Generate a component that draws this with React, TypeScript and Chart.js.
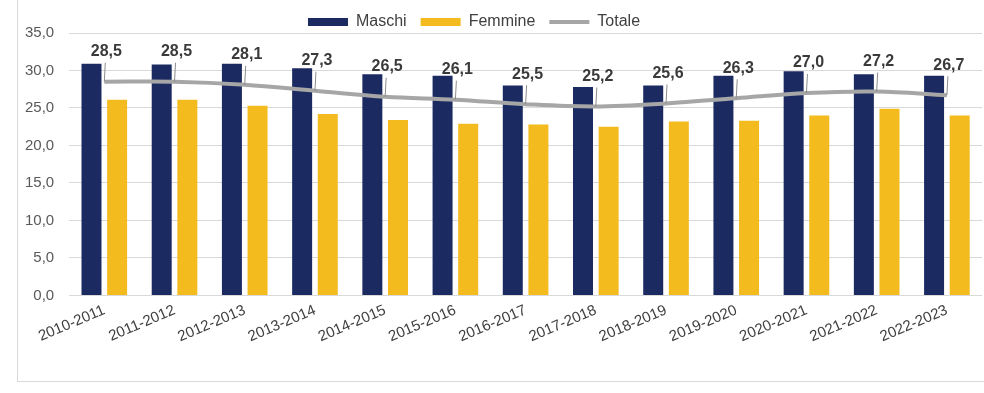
import React, { useEffect, useRef } from "react";
import { Chart, registerables } from "chart.js";

Chart.register(...registerables);

const categories = [
  "2010-2011", "2011-2012", "2012-2013", "2013-2014", "2014-2015", "2015-2016", "2016-2017",
  "2017-2018", "2018-2019", "2019-2020", "2020-2021", "2021-2022", "2022-2023",
];
const maschi = [30.9, 30.8, 30.9, 30.3, 29.5, 29.3, 28.0, 27.8, 28.0, 29.3, 29.9, 29.5, 29.3];
const femmine = [26.1, 26.1, 25.3, 24.2, 23.4, 22.9, 22.8, 22.5, 23.2, 23.3, 24.0, 24.9, 24.0];
const totale = [28.5, 28.5, 28.1, 27.3, 26.5, 26.1, 25.5, 25.2, 25.6, 26.3, 27.0, 27.2, 26.7];
const seriesNames = ["Maschi", "Femmine", "Totale"];
const yMin = 0;
const yMax = 35;
const yStep = 5;

const FONT = "'Liberation Sans', Arial, sans-serif";
const NAVY = "#1c2a62";
const YELLOW = "#f3bb1e";
const GRAY = "#a6a6a6";

const fmt = (v: number) => v.toFixed(1).replace(".", ",");

const totLabels = {
  id: "totLabels",
  afterDatasetsDraw(chart: any) {
    const meta = chart.getDatasetMeta(2);
    const ctx = chart.ctx;
    ctx.save();
    meta.data.forEach((pt: any, i: number) => {
      const x = pt.x;
      const y = pt.y;
      ctx.strokeStyle = "#8c8c8c";
      ctx.lineWidth = 1;
      ctx.beginPath();
      ctx.moveTo(x, y);
      ctx.lineTo(x + 1, y - 19);
      ctx.stroke();
      ctx.font = `bold 16px ${FONT}`;
      ctx.fillStyle = "#3a3a3a";
      ctx.textAlign = "center";
      ctx.textBaseline = "middle";
      ctx.fillText(fmt(totale[i]), x + 2, y - 30);
    });
    ctx.restore();
  },
};

const shiftLegend = {
  id: "shiftLegend",
  afterLayout(chart: any) {
    const lg = chart.legend;
    if (lg) {
      lg.left -= 22;
      lg.right -= 22;
      lg.top += 7;
      lg.bottom += 7;
    }
  },
};

export default function App() {
  const ref = useRef<HTMLCanvasElement | null>(null);
  useEffect(() => {
    if (!ref.current) return;
    const chart = new Chart(ref.current, {
      type: "bar",
      data: {
        labels: categories,
        datasets: [
          {
            type: "bar",
            label: seriesNames[0],
            data: maschi,
            backgroundColor: NAVY,
            order: 2,
            categoryPercentage: 0.73,
            barPercentage: 0.78,
          },
          {
            type: "bar",
            label: seriesNames[1],
            data: femmine,
            backgroundColor: YELLOW,
            order: 2,
            categoryPercentage: 0.73,
            barPercentage: 0.78,
          },
          {
            type: "line",
            label: seriesNames[2],
            data: totale,
            borderColor: GRAY,
            backgroundColor: GRAY,
            borderWidth: 4,
            pointRadius: 0,
            tension: 0.35,
            order: 0,
          } as any,
        ],
      },
      options: {
        responsive: false,
        animation: false,
        layout: { padding: { left: 10, right: 2, top: -7, bottom: 41 } },
        plugins: {
          tooltip: { enabled: false },
          legend: {
            position: "top",
            labels: {
              font: { family: FONT, size: 16 },
              color: "#404040",
              usePointStyle: true,
              pointStyleWidth: 40,
              boxHeight: 8,
              padding: 14,
              generateLabels: () => [
                { text: seriesNames[0], fillStyle: NAVY, strokeStyle: NAVY, lineWidth: 0, pointStyle: "rect", hidden: false, datasetIndex: 0, fontColor: "#404040" },
                { text: seriesNames[1], fillStyle: YELLOW, strokeStyle: YELLOW, lineWidth: 0, pointStyle: "rect", hidden: false, datasetIndex: 1, fontColor: "#404040" },
                { text: seriesNames[2], fillStyle: GRAY, strokeStyle: GRAY, lineWidth: 4, pointStyle: "line", hidden: false, datasetIndex: 2, fontColor: "#404040" },
              ] as any,
            },
          },
        },
        scales: {
          x: {
            grid: { display: false, drawTicks: false },
            border: { display: false },
            ticks: {
              font: { family: FONT, size: 15 },
              color: "#404040",
              minRotation: 23,
              maxRotation: 23,
              padding: 6,
              autoSkip: false,
            },
          },
          y: {
            min: yMin,
            max: yMax,
            grid: { color: "#d9d9d9", lineWidth: 1, drawTicks: false },
            border: { display: false },
            ticks: {
              stepSize: yStep,
              font: { family: FONT, size: 15 },
              color: "#595959",
              padding: 15,
              callback: (v: any) => fmt(Number(v)),
            },
          },
        },
      },
      plugins: [totLabels, shiftLegend],
    });
    return () => chart.destroy();
  }, []);

  return (
    <div style={{ position: "fixed", left: 0, top: 0, width: 984, height: 393, background: "#fff" }}>
      <div
        style={{
          position: "absolute",
          left: 17,
          top: 0,
          width: 980,
          height: 382,
          boxSizing: "border-box",
          borderLeft: "1px solid #d9d9d9",
          borderBottom: "1px solid #d9d9d9",
        }}
      />
      <canvas
        ref={ref}
        width={984}
        height={393}
        style={{ position: "absolute", left: 0, top: 0, display: "block" }}
      />
    </div>
  );
}
